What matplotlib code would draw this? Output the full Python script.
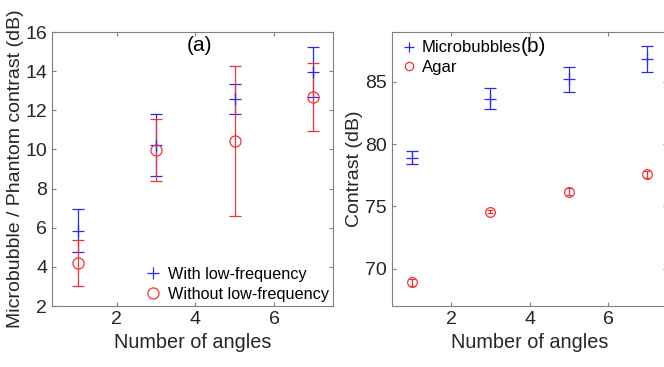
import matplotlib
matplotlib.use('Agg')
import matplotlib.pyplot as plt
from matplotlib.lines import Line2D

plt.rcParams['font.family'] = ['Liberation Sans', 'DejaVu Sans']

# 数据 (a)
angles = [1, 3, 5, 7]
with_lf = [5.85, 10.22, 12.58, 13.97]
with_lf_err = [1.1, 1.57, 0.77, 1.27]
without_lf = [4.2, 9.97, 10.43, 12.7]
without_lf_err = [1.19, 1.6, 3.85, 1.74]

# 数据 (b)
micro = [78.92, 83.66, 85.2, 86.82]
micro_err = [0.53, 0.88, 1.02, 1.03]
agar = [68.92, 74.58, 76.16, 77.56]
agar_err = [0.28, 0.15, 0.28, 0.28]

fig = plt.figure(figsize=(6.64, 3.67), dpi=100)
ax1 = fig.add_axes([0.0783, 0.1662, 0.4232, 0.7466])
ax2 = fig.add_axes([0.5904, 0.1662, 0.4142, 0.7466])

blue = '#2b2bf0'
red = '#f03434'
spine_c = '#808080'
txt_c = '#262626'

ax1.errorbar(angles, with_lf, yerr=with_lf_err, fmt='+', color=blue,
             ms=8, mew=0.9, elinewidth=0.9, capsize=4.5, capthick=0.9)
ax1.errorbar(angles, without_lf, yerr=without_lf_err, fmt='o', color=red,
             mfc='none', ms=8, mew=0.9, elinewidth=0.9, capsize=4.5, capthick=0.9)
ax1.set_xlim(0.35, 7.5)
ax1.set_ylim(2, 16)
ax1.set_xticks([2, 4, 6])
ax1.set_yticks(range(2, 17, 2))
ax1.set_xlabel('Number of angles', fontsize=14.3)
ax1.set_ylabel('Microbubble / Phantom contrast (dB)', fontsize=14, labelpad=1)
ax1.text(4.1, 15.3, '(a)', fontsize=15, ha='center', va='center')
h1 = [Line2D([], [], ls='none', marker='+', color=blue, ms=8, mew=0.9),
      Line2D([], [], ls='none', marker='o', color=red, mfc='none', ms=8, mew=0.9)]
ax1.legend(h1, ['With low-frequency', 'Without low-frequency'], loc='lower right',
           frameon=False, fontsize=11.7, handletextpad=0.3, borderaxespad=0.0,
           handlelength=1.2, labelspacing=0.3, borderpad=0.25)

ax2.errorbar(angles, micro, yerr=micro_err, fmt='+', color=blue,
             ms=8, mew=0.9, elinewidth=0.9, capsize=4, capthick=0.9)
ax2.errorbar(angles, agar, yerr=agar_err, fmt='o', color=red,
             mfc='none', ms=7, mew=0.9, elinewidth=0.9, capsize=2.5, capthick=0.9)
ax2.set_xlim(0.5, 7.5)
ax2.set_ylim(67, 89)
ax2.set_xticks([2, 4, 6])
ax2.set_yticks([70, 75, 80, 85])
ax2.set_xlabel('Number of angles', fontsize=14.3)
ax2.set_ylabel('Contrast (dB)', fontsize=14, labelpad=2)
ax2.text(4.1, 87.8, '(b)', fontsize=15, ha='center', va='center')
h2 = [Line2D([], [], ls='none', marker='+', color=blue, ms=7, mew=0.9),
      Line2D([], [], ls='none', marker='o', color=red, mfc='none', ms=6, mew=0.9)]
ax2.legend(h2, ['Microbubbles', 'Agar'], loc='upper left', frameon=False,
           fontsize=12, handletextpad=0.3, borderaxespad=0.1,
           handlelength=1.0, labelspacing=0.25)

for ax in (ax1, ax2):
    for s in ax.spines.values():
        s.set_color(spine_c)
        s.set_linewidth(0.8)
    ax.tick_params(direction='in', top=True, right=True, length=3,
                   color=spine_c, labelsize=14, labelcolor=txt_c)
    ax.xaxis.label.set_color(txt_c)
    ax.yaxis.label.set_color(txt_c)

fig.savefig('out.png', dpi=100)
